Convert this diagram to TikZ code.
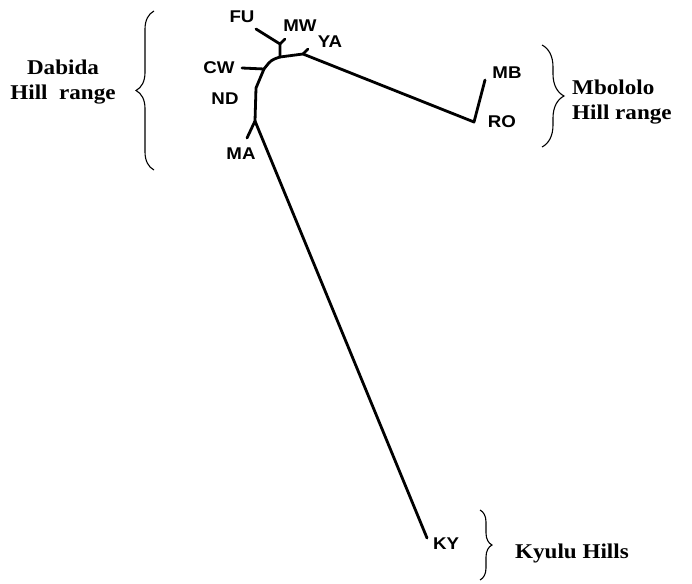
\documentclass[tikz,border=0pt]{standalone}
\usepackage{fontspec}
\setmainfont{Liberation Serif}
\newfontfamily\taxfont[FakeStretch=1.1]{Liberation Sans}
\newfontfamily\rangefont[FakeStretch=1.1]{Liberation Serif}
\usetikzlibrary{decorations.pathreplacing}

\begin{document}
\begin{tikzpicture}[x=1pt, y=-1pt,
    taxon/.style={font=\taxfont\bfseries\fontsize{17}{17}\selectfont, inner sep=0pt},
    rangelabel/.style={font=\rangefont\bfseries\fontsize{21}{25}\selectfont, inner sep=0pt},
    branch/.style={line width=2.8, line cap=round, line join=round},
    rangebrace/.style={decorate, decoration={brace, amplitude=#1}, line width=1.1}]
    \useasboundingbox (0,0) rectangle (692,583);
    % tree junctions and tips
    \coordinate (tFU) at (256,29);
    \coordinate (nMW) at (280,44);
    \coordinate (tMW) at (285,39);
    \coordinate (nCore) at (280,57);
    \coordinate (nYA) at (303,54);
    \coordinate (tYA) at (308,49);
    \coordinate (nRO) at (474,122);
    \coordinate (tMB) at (485,80);
    \coordinate (nCW) at (264,69);
    \coordinate (tCW) at (242,68);
    \coordinate (nBend) at (256,88);
    \coordinate (nSplit) at (255,121);
    \coordinate (tMA) at (247,138);
    \coordinate (tKY) at (427,538);
    % taxa
    \node[taxon] (FU) at (242,17) {FU};
    \node[taxon] (MW) at (300,26) {MW};
    \node[taxon] (YA) at (330,42) {YA};
    \node[taxon] (CW) at (219,68) {CW};
    \node[taxon] (ND) at (225,99) {ND};
    \node[taxon] (MA) at (241,154) {MA};
    \node[taxon] (MB) at (507,73) {MB};
    \node[taxon] (RO) at (502,122) {RO};
    \node[taxon] (KY) at (446,544) {KY};
    % branches
    \draw[branch] (tFU) -- (nMW) -- (nCore);
    \draw[branch] (nMW) -- (tMW);
    \draw[branch] (nCore) -- (nYA) -- (nRO) -- (tMB);
    \draw[branch] (nYA) -- (tYA);
    \draw[branch] (nCore) .. controls (271,60) .. (nCW) -- (nBend) -- (nSplit) -- (tMA);
    \draw[branch] (nCW) -- (tCW);
    \draw[branch] (nSplit) -- (tKY);
    % ranges
    \coordinate (dabBot) at (154,170);
    \coordinate (dabTop) at (154,11);
    \coordinate (mboTop) at (542,45);
    \coordinate (mboBot) at (542,147);
    \coordinate (kyuTop) at (480,510);
    \coordinate (kyuBot) at (480,580);
    \draw[rangebrace=18] (dabBot) -- (dabTop);
    \draw[rangebrace=22] (mboTop) -- (mboBot);
    \draw[rangebrace=12] (kyuTop) -- (kyuBot);
    \node[rangelabel, align=center] (dabida) at (63,82) {Dabida\\Hill\ \ range};
    \node[rangelabel, align=left, anchor=west] (mbololo) at (572,102) {Mbololo\\Hill range};
    \node[rangelabel, anchor=west] (kyulu) at (515,553) {Kyulu Hills};
\end{tikzpicture}
\end{document}
